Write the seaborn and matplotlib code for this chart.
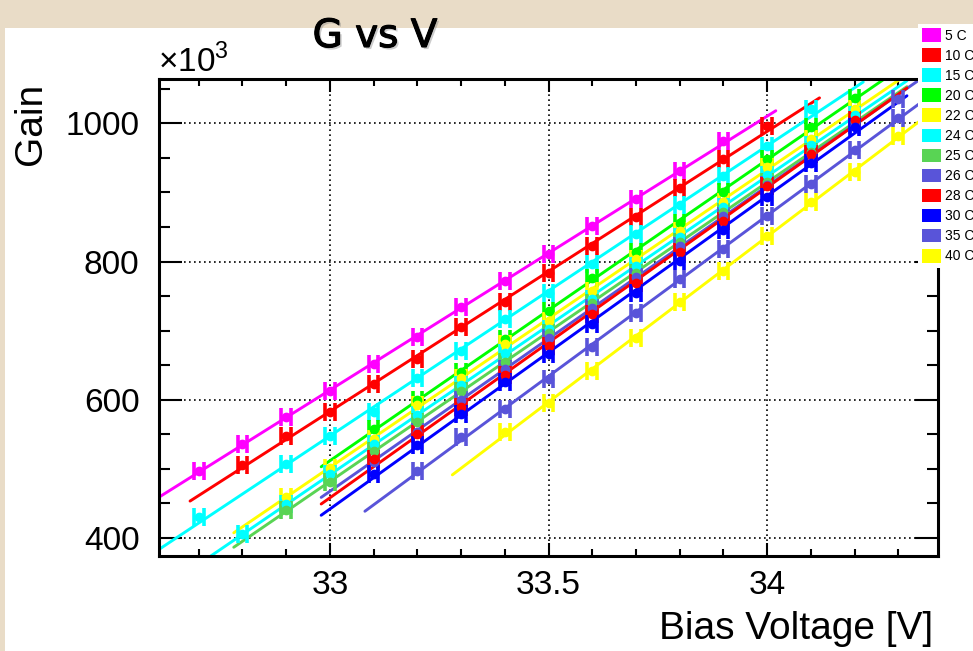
import numpy as np
import pandas as pd
import matplotlib
matplotlib.use("Agg")
import matplotlib.pyplot as plt
import matplotlib.patheffects as pe
from matplotlib.patches import Patch, Rectangle
from matplotlib.ticker import MultipleLocator, FixedLocator, FuncFormatter
import seaborn as sns

nan = np.nan

# ============================================================
# data (gain in units of 10^3)
# ============================================================
bias_v = [32.7, 32.8, 32.9, 33.0, 33.1, 33.2, 33.3, 33.4, 33.5,
          33.6, 33.7, 33.8, 33.9, 34.0, 34.1, 34.2, 34.3]

temps = ["5 C", "10 C", "15 C", "20 C", "22 C", "24 C",
         "25 C", "26 C", "28 C", "30 C", "35 C", "40 C"]

colors = ["#ff00ff", "#ff0000", "#00ffff", "#00ff00", "#ffff00", "#00ffff",
          "#59d454", "#5954d9", "#ff0000", "#0000ff", "#5954d9", "#ffff00"]

gain_5c = [497, 536, 575, 613, 652, 691, 734, 772, 811, 851, 890, 931, 974, nan, nan, nan, nan]
gain_10c = [nan, 506, 548, 582, 623, 659, 705, 741, 783, 823, 865, 907, 948, 996, nan, nan, nan]
gain_15c = [430, nan, 507, 548, 582, 632, 671, 717, 754, 796, 840, 882, 923, 967, 1020, nan, nan]
gain_20c = [nan, nan, nan, nan, 558, 599, 640, 688, 729, 776, 814, 855, 900, 948, 995, 1036, nan]
gain_22c = [nan, nan, 459, 502, 543, 592, 632, 680, 714, 758, 803, 844, 886, 936, 977, 1020, nan]
gain_24c = [nan, 406, 449, 492, 536, 578, 622, 668, 702, 746, 793, 836, 879, 925, 968, 1012, nan]
gain_25c = [nan, nan, 440, 481, 526, 568, 612, 655, 697, 740, 784, 828, 871, 915, 958, 1002, nan]
gain_26c = [nan, nan, nan, nan, 510, 553, 600, 645, 690, 733, 778, 822, 866, 911, 955, 998, 1035]
gain_28c = [nan, nan, nan, nan, 514, 550, 589, 636, 678, 724, 769, 814, 859, 909, 955, 1004, nan]
gain_30c = [nan, nan, nan, nan, 492, 534, 579, 625, 666, 709, 755, 801, 845, 893, 943, 994, nan]
gain_35c = [nan, nan, nan, nan, nan, 497, 546, 587, 630, 676, 726, 774, 818, 866, 912, 962, 1008]
gain_40c = [nan, nan, nan, nan, nan, nan, nan, 553, 596, 642, 690, 741, 786, 837, 886, 929, 982]

gains = [gain_5c, gain_10c, gain_15c, gain_20c, gain_22c, gain_24c,
         gain_25c, gain_26c, gain_28c, gain_30c, gain_35c, gain_40c]

x_err = 0.011      # voltage error bar half width
fit_pad = 0.12     # fit line drawn a bit beyond the measured range


def main():
    sns.set_theme(style="ticks")
    plt.rcParams["font.family"] = ["Liberation Sans", "DejaVu Sans"]
    plt.rcParams["mathtext.fontset"] = "custom"
    plt.rcParams["mathtext.rm"] = "Liberation Sans"
    plt.rcParams["text.color"] = "black"

    W, H = 973, 651
    fig = plt.figure(figsize=(W / 100, H / 100), dpi=100)
    fig.patch.set_facecolor("#e9dcc7")
    # white canvas
    fig.patches.append(Rectangle((5 / W, 0), 1 - 5 / W, 1 - 28 / H, transform=fig.transFigure,
                                 facecolor="white", edgecolor="none", zorder=-10))

    ax = fig.add_axes([159 / W, 1 - 556 / H, (938 - 159) / W, (556 - 79) / H])
    ax.set_facecolor("white")

    df = pd.DataFrame({"V": bias_v})
    for t, g in zip(temps, gains):
        df[t] = g
    long_df = df.melt(id_vars="V", var_name="temp", value_name="gain").dropna()

    for t, c in zip(temps, colors):
        sub = long_df[long_df["temp"] == t]
        v = sub["V"].to_numpy()
        g = sub["gain"].to_numpy()
        slope, icpt = np.polyfit(v, g, 1)
        xs = np.array([v.min() - fit_pad, v.max() + fit_pad])
        sns.lineplot(x=xs, y=slope * xs + icpt, color=c, lw=2.1, ax=ax, legend=False)
        ax.errorbar(v, g, xerr=x_err, fmt="o", color=c, ms=6, elinewidth=2.5,
                    capsize=6.5, capthick=2.6, zorder=3)

    ax.set_xlim(32.609, 34.391)
    ax.set_ylim(374, 1064)
    ax.xaxis.set_major_locator(FixedLocator([33, 33.5, 34]))
    ax.xaxis.set_minor_locator(MultipleLocator(0.1))
    ax.xaxis.set_major_formatter(FuncFormatter(lambda x, p: f"{x:g}"))
    ax.yaxis.set_major_locator(MultipleLocator(200))
    ax.yaxis.set_minor_locator(MultipleLocator(50))

    ax.set_axisbelow(True)
    ax.grid(True, which="major", color="black", linestyle=(0, (1, 2)), linewidth=1.2)

    for s in ax.spines.values():
        s.set_linewidth(2.2)
        s.set_color("black")
    ax.tick_params(which="both", direction="in", top=True, right=True, width=1.5,
                   color="black", labelsize=24, labelcolor="black")
    ax.tick_params(axis="x", which="major", length=9.5, pad=10)
    ax.tick_params(axis="x", which="minor", length=5)
    ax.tick_params(axis="y", which="major", length=16.5, pad=14)
    ax.tick_params(axis="y", which="minor", length=8)
    ax.set_xlabel("")
    ax.set_ylabel("")

    fig.text(933 / W, 1 - 639 / H, "Bias Voltage [V]", ha="right", va="baseline",
             fontsize=28, color="black")
    fig.text(31 / W, 1 - 83 / H, "Gain", rotation=90, ha="center", va="top",
             fontsize=28, color="black")
    fig.text(158 / W, 1 - 72 / H, r"$\times$10$^{3}$", ha="left", va="baseline",
             fontsize=24, color="black")

    fig.text(375 / W, 1 - 47 / H, "G vs V", ha="center", va="baseline", fontsize=28,
             family="DejaVu Sans", color="black",
             path_effects=[pe.withSimplePatchShadow(offset=(1.5, -1.5), shadow_rgbFace="gray", alpha=0.4),
                           pe.withStroke(linewidth=0.8, foreground="black")])

    handles = [Patch(facecolor=c, edgecolor="none", label=t) for t, c in zip(temps, colors)]
    fig.legend(handles=handles, loc="upper left", bbox_to_anchor=(918 / W, 1 - 24 / H),
               frameon=True, facecolor="white", edgecolor="none", framealpha=1, fancybox=False,
               fontsize=10, handlelength=1.37, handleheight=1.13, labelspacing=0.4,
               handletextpad=0.25, borderpad=0.3, borderaxespad=0, labelcolor="black")

    fig.savefig("out.png", dpi=100, facecolor=fig.get_facecolor())
    plt.close(fig)


if __name__ == "__main__":
    main()
